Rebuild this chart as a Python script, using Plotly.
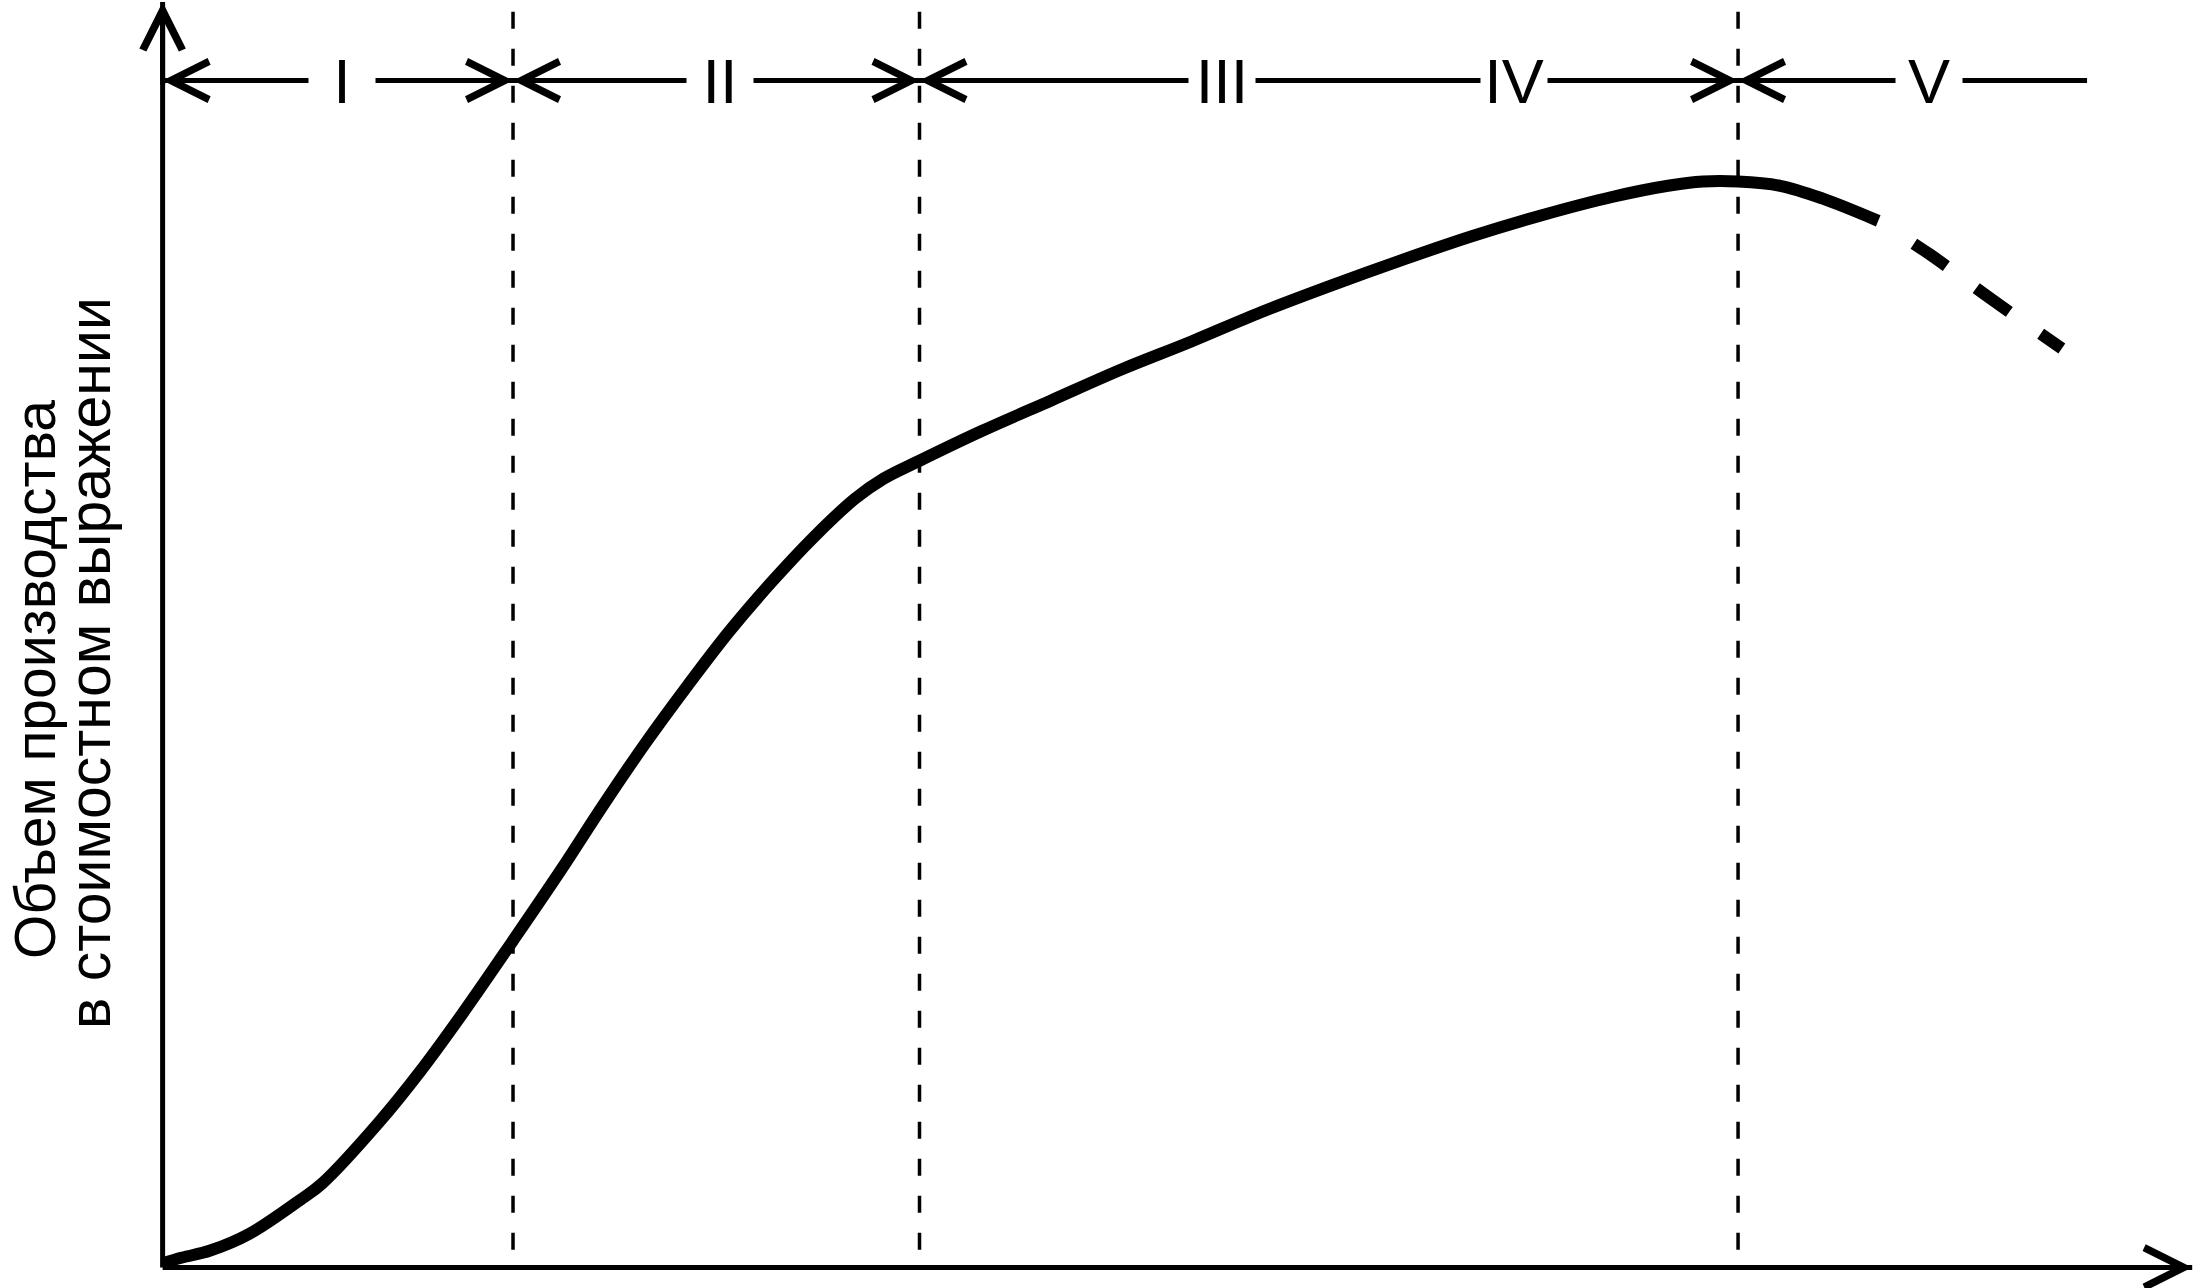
import plotly.graph_objects as go

# ---- data (arbitrary units) ----
t_solid = [0, 14, 34, 62, 98, 114, 154, 184, 214, 250, 284, 314, 344, 374, 404, 434,
           464, 494, 514, 540, 584, 634, 684, 734, 784, 834, 884, 934, 984, 1034,
           1074, 1099, 1124, 1154, 1184, 1224]
v_solid = [3, 7, 12, 24, 48, 60, 103, 140, 181, 233, 283, 329, 373, 414, 453, 488,
           520, 548, 562, 575, 596, 618, 640, 660, 681, 700, 718, 735, 750, 763,
           771, 774, 774, 771, 762, 746]
t_proj = [1224, 1261, 1305, 1355]
v_proj = [746, 722, 690, 655]

stage_bounds = [250, 540, 1124]          # vertical dashed guides / stage limits
stage_line_end = 1373
stage_level = 846
stage_labels = ["I", "II", "III", "IV", "V"]
stage_label_x = [128, 398, 756, 964, 1260]

x_max, y_max = 1448, 902
guide_top = 895
y_title_lines = ["Объем производства", "в стоимостном выражении"]

FONT = "Liberation Sans, Arial, sans-serif"

fig = go.Figure()

# main curve
fig.add_trace(go.Scatter(x=t_solid, y=v_solid, mode="lines",
                         line=dict(color="black", width=12, shape="spline", smoothing=1.0),
                         hoverinfo="skip", showlegend=False))
# projected decline (dashed)
fig.add_trace(go.Scatter(x=t_proj, y=v_proj, mode="lines",
                         line=dict(color="black", width=12, shape="spline",
                                   dash="0px,42px,40px,37px,41px,38px,26px,100px"),
                         hoverinfo="skip", showlegend=False))

shapes = []
for b in stage_bounds:
    shapes.append(dict(type="line", xref="x", yref="y", x0=b, x1=b, y0=guide_top, y1=0,
                       line=dict(color="black", width=3.5, dash="17px,20px")))
# axes lines
shapes.append(dict(type="line", xref="x", yref="y", x0=0, x1=x_max, y0=0, y1=0,
                   line=dict(color="black", width=5)))
shapes.append(dict(type="line", xref="x", yref="y", x0=0, x1=0, y0=0, y1=y_max,
                   line=dict(color="black", width=5)))
# stage line
shapes.append(dict(type="line", xref="x", yref="y", x0=0, x1=stage_line_end,
                   y0=stage_level, y1=stage_level, line=dict(color="black", width=5)))

ann = []


def head(xh, yh, xt, yt, width, size):
    return dict(x=xh, y=yh, ax=xt, ay=yt, xref="x", yref="y", axref="x", ayref="y",
                showarrow=True, arrowhead=5, arrowsize=size, arrowwidth=width,
                arrowcolor="black", text="", standoff=0)


# axis arrowheads
ann.append(head(x_max, 0, x_max - 60, 0, 5, 1.55))
ann.append(head(0, y_max, 0, y_max - 60, 5, 1.55))

# stage arrowheads
edges = [0] + stage_bounds
for i, e in enumerate(edges):
    if i > 0:
        ann.append(head(e, stage_level, e - 50, stage_level, 5, 1.5))
    ann.append(head(e, stage_level, e + 50, stage_level, 5, 1.5))

# stage labels (white box interrupts the line)
for lab, lx in zip(stage_labels, stage_label_x):
    ann.append(dict(x=lx, y=stage_level, xref="x", yref="y", text=lab, showarrow=False,
                    font=dict(family=FONT, size=63, color="black"),
                    bgcolor="white", width=66, borderpad=0,
                    xanchor="center", yanchor="middle"))

# y axis title, two lines
for txt, shift, yy, fs in zip(y_title_lines, [-122, -67], [0.4666, 0.48], [57, 59]):
    ann.append(dict(x=0, y=yy, xref="paper", yref="paper", text=txt, showarrow=False,
                    textangle=-90, xanchor="center", yanchor="middle", xshift=shift,
                    font=dict(family=FONT, size=fs, color="black")))

fig.update_layout(
    width=2200, height=1288,
    margin=dict(l=157, r=5, t=2, b=15),
    paper_bgcolor="white", plot_bgcolor="white",
    xaxis=dict(range=[-4, 1450], visible=False, fixedrange=True),
    yaxis=dict(range=[-4, 902], visible=False, fixedrange=True),
    shapes=shapes, annotations=ann, showlegend=False,
)

fig.write_html("out.html", config={"displayModeBar": False},
               post_script="document.body.style.margin='0';document.body.style.overflow='hidden';")
